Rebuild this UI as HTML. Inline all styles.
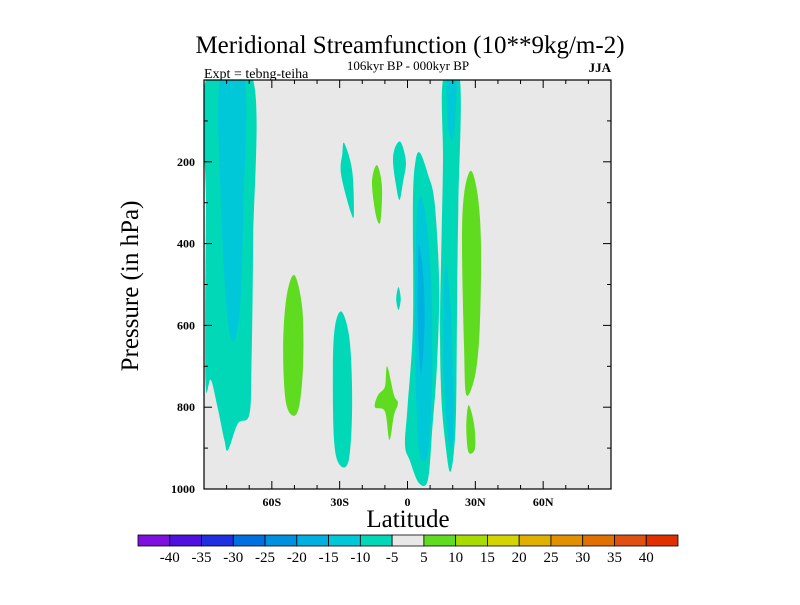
<!DOCTYPE html>
<html><head><meta charset="utf-8"><style>
body{margin:0;background:#fff;}
svg text{font-family:"Liberation Serif",serif;fill:#000;}
</style></head><body>
<svg width="800" height="600" xmlns="http://www.w3.org/2000/svg">
<defs><clipPath id="pc"><rect x="204" y="80" width="407" height="409"/></clipPath></defs>
<text x="410" y="53" font-size="25" text-anchor="middle">Meridional Streamfunction (10**9kg/m-2)</text>
<text x="408" y="70" font-size="13" text-anchor="middle">106kyr BP - 000kyr BP</text>
<text x="204" y="78" font-size="14">Expt = tebng-teiha</text>
<text x="611" y="72" font-size="13" font-weight="bold" text-anchor="end">JJA</text>
<rect x="204" y="80" width="407" height="409" fill="#e8e8e8"/>
<g id="fields" clip-path="url(#pc)"></g>
<g id="axes"></g>
<rect x="204" y="80" width="407" height="409" fill="none" stroke="#000" stroke-width="1.2"/>
<text x="408" y="527" font-size="25" text-anchor="middle">Latitude</text>
<text transform="translate(138,286) rotate(-90)" font-size="25" text-anchor="middle">Pressure (in hPa)</text>
<g id="cbar"></g>
</svg>
<script>
const levelColors=["#8010e0","#5010e0","#2030e0","#0070e0","#0090e0","#00b0e0","#00c8d8","#00d8b8","#e8e8e8","#60dc20","#a8dc00","#d4d400","#e0b000","#e09000","#e07000","#e05010","#e03000"];
const levelLabels=["-40","-35","-30","-25","-20","-15","-10","-5","5","10","15","20","25","30","35","40"];
const xLabels=["60S","30S","0","30N","60N"];
const xLabelLats=[-60,-30,0,30,60];
const yLabels=[200,400,600,800,1000];
// regions: [colorIndex, [[lat,p],...]]
const regions=[
[7,[[-89.1,0],[-68.3,0],[-68.3,400],[-69,700],[-70,819],[-75,840],[-79.4,905],[-81,880],[-84,800],[-87,733],[-89.1,760],[-89.5,600],[-89.1,300]]],
[6,[[-83,0],[-72,0],[-72.5,300],[-74,550],[-77,640],[-80,560],[-82.5,300]]],
[9,[[-50,477],[-46.5,560],[-46.2,700],[-48,800],[-51,820],[-54,780],[-55,650],[-53.5,530]]],
[7,[[-29,567],[-25.5,640],[-24.5,800],[-26,930],[-30,941],[-32.5,880],[-33,700],[-32,600]]],
[7,[[-28,154],[-24.5,220],[-23.7,325],[-25,325],[-29.4,230],[-28.8,180]]],
[9,[[-13.5,208],[-11.3,260],[-12,347],[-14,330],[-15.7,250]]],
[7,[[-3,152],[-0.7,200],[-2,250],[-3.5,293],[-5,260],[-6.4,200],[-5.5,165]]],
[9,[[-9,700],[-6,770],[-4.2,790],[-6,820],[-8,880],[-10,810],[-14.4,800],[-13,770],[-10,750]]],
[7,[[-4,506],[-3,535],[-4,562],[-5,535]]],
[7,[[5.5,178],[9,230],[12,300],[14,500],[13,700],[11,850],[9,978],[5,985],[1,930],[-1.1,892],[0,800],[2.4,600],[2.4,300],[3.5,200]]],
[7,[[15.7,0],[23.2,0],[22.5,300],[22,500],[21.5,800],[20.5,910],[18.8,958],[17,900],[15,780],[14.4,600],[15,400],[15.7,200]]],
[6,[[5,290],[8,330],[10.5,500],[11,700],[10,850],[8,930],[5,900],[3.5,700],[3.5,450]]],
[5,[[5,400],[7,480],[7.5,600],[6,720],[4.6,600],[4.6,480]]],
[6,[[17.5,0],[21.5,0],[21,100],[20,147],[18,120],[17.5,60]]],
[6,[[17,450],[19,550],[20,700],[20.5,820],[19.5,900],[17.5,850],[16,700],[16,550]]],
[9,[[28,222],[31,280],[32.5,400],[32,600],[30,720],[26,770],[25,650],[24.1,400],[25,280]]],
[9,[[27,795],[29.4,840],[29.9,900],[27,910],[26,850]]]
];
const NS="http://www.w3.org/2000/svg";
const X0=204,X1=611,Y0=80,Y1=489;
function xs(lat){return X0+(lat+90)/180*(X1-X0);}
function ys(p){return Y0+p/1000*(Y1-Y0);}
function mk(t,a,parent){const e=document.createElementNS(NS,t);for(const k in a)e.setAttribute(k,a[k]);parent.appendChild(e);return e;}
function smooth(pts){const n=pts.length;let d=`M${pts[0][0]},${pts[0][1]}`;
for(let i=0;i<n;i++){const p0=pts[(i-1+n)%n],p1=pts[i],p2=pts[(i+1)%n],p3=pts[(i+2)%n];
const c1=[p1[0]+(p2[0]-p0[0])/6,p1[1]+(p2[1]-p0[1])/6],c2=[p2[0]-(p3[0]-p1[0])/6,p2[1]-(p3[1]-p1[1])/6];
d+=` C${c1[0]},${c1[1]} ${c2[0]},${c2[1]} ${p2[0]},${p2[1]}`;}return d+"Z";}
const fg=document.getElementById('fields');
regions.forEach((r,i)=>{const pts=r[1].map(q=>[xs(q[0]),ys(q[1])]);
const e=mk('path',{d:smooth(pts),fill:levelColors[r[0]]},fg);

});
const ax=document.getElementById('axes');
for(let lat=-80;lat<=80;lat+=10){const major=lat%30===0;const L=major?8:4;const x=xs(lat);
mk('line',{x1:x,y1:Y1,x2:x,y2:Y1-L,stroke:'#000'},ax);
mk('line',{x1:x,y1:Y0,x2:x,y2:Y0+L,stroke:'#000'},ax);}
xLabelLats.forEach((lat,i)=>{const t=mk('text',{x:xs(lat),y:Y1+17,'font-size':12,'font-weight':'bold','text-anchor':'middle'},ax);t.textContent=xLabels[i];

});
for(let p=100;p<1000;p+=100){const L=p%200===0?8:4;const y=ys(p);
mk('line',{x1:X0,y1:y,x2:X0+L,y2:y,stroke:'#000'},ax);
mk('line',{x1:X1,y1:y,x2:X1-L,y2:y,stroke:'#000'},ax);}
yLabels.forEach(p=>{const t=mk('text',{x:X0-9,y:ys(p)+4,'font-size':12,'font-weight':'bold','text-anchor':'end'},ax);t.textContent=p;

});
const cb=document.getElementById('cbar');
const CX0=138,CX1=678,CY=535,CH=11;const bw=(CX1-CX0)/levelColors.length;
levelColors.forEach((c,i)=>{const r=mk('rect',{x:CX0+i*bw,y:CY,width:bw,height:CH,fill:c,stroke:'#000','stroke-width':0.8},cb);

});
levelLabels.forEach((l,i)=>{const t=mk('text',{x:CX0+(i+1)*bw,y:562,'font-size':15,'text-anchor':'middle'},cb);t.textContent=l;

});
</script>
</body></html>
